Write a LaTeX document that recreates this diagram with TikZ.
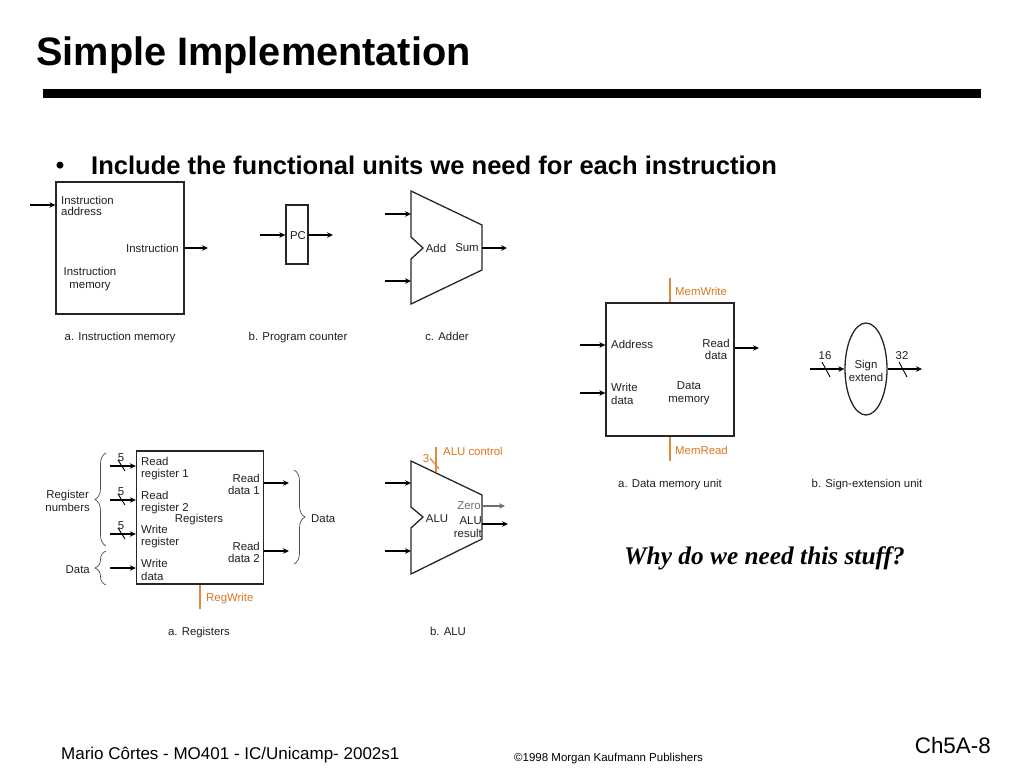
\documentclass[tikz,border=0pt]{standalone}
\usepackage{fontspec}
\setmainfont{Liberation Sans}
\newfontfamily\whyfont{Liberation Serif}
\usetikzlibrary{decorations.pathreplacing,shapes.geometric,arrows.meta}
\definecolor{ctrlorange}{HTML}{DD8A3C}
\definecolor{ctrltext}{HTML}{D9771F}
\definecolor{zerogray}{HTML}{6E6E6E}
\tikzset{
  lbl/.style={inner sep=0pt,align=center,yshift=-1pt,font=\fontsize{11.4}{12.4}\selectfont,text=black!88},
  lblleft/.style={lbl,align=left,anchor=west},
  ctrllbl/.style={lbl,text=ctrltext,anchor=west},
  unitbox/.style={draw=black!85,line width=1.3pt,inner sep=0pt},
  unitline/.style={draw=black!85,line width=1.3pt,line join=miter},
  sig/.style={line width=2pt,-{Stealth[length=6pt,width=5.5pt]}},
  ctrl/.style={line width=1.2pt,draw=ctrlorange},
  bus/.style={line width=.9pt},
  grp/.style={draw=black!70,line width=.7pt,decorate,decoration={brace,amplitude=11pt}}
}
\begin{document}
\begin{tikzpicture}[x=1pt,y=-1pt]
  \useasboundingbox (0,0) rectangle (1024,768);
  % heading
  \node[inner sep=0pt,anchor=west,font=\fontsize{39.7}{41}\selectfont\bfseries] (title) at (36,55) {Simple Implementation};
  \fill (43,89) rectangle (981,98);
  \node[inner sep=0pt,font=\fontsize{24}{26}\selectfont\bfseries] (dot) at (60,168) {•};
  \node[inner sep=0pt,anchor=west,font=\fontsize{25.55}{27}\selectfont\bfseries] (head) at (91,165) {Include the functional units we need for each instruction};

  % units
  \node[unitbox,minimum width=128pt,minimum height=132pt] (imem) at (120,248) {};
  \node[unitbox,minimum width=22pt,minimum height=59pt] (pc) at (297,234.5) {};
  \node[unitbox,minimum width=128pt,minimum height=133pt] (dmem) at (670,369.5) {};
  \node[unitbox,minimum width=127pt,minimum height=133pt] (regs) at (200,517.5) {};
  \node[draw=black!85,ellipse,line width=1.3pt,minimum width=42pt,minimum height=92pt,inner sep=0pt] (sign) at (866,369) {};
  \draw[unitline] (411,191) -- (482,225) -- (482,270) -- (411,304) -- (411,259) -- (423,248) -- (411,237) -- cycle;
  \draw[unitline] (411,461) -- (482,495) -- (482,539) -- (411,574) -- (411,528) -- (423,517) -- (411,507) -- cycle;

  % free ends of the connectors
  \coordinate (imemin) at (30,205);
  \coordinate (imemout) at (208,248);
  \coordinate (pcin) at (260,235);
  \coordinate (pcout) at (333,235);
  \coordinate (addain) at (385,214);
  \coordinate (addaend) at (411,214);
  \coordinate (addbin) at (385,281);
  \coordinate (addbend) at (411,281);
  \coordinate (addsum) at (482,248);
  \coordinate (addout) at (507,248);
  \coordinate (dmaddr) at (580,345);
  \coordinate (dmdata) at (580,393);
  \coordinate (dmout) at (759,348);
  \coordinate (signin) at (810,369);
  \coordinate (signout) at (922,369);
  \coordinate (rra) at (110,466);
  \coordinate (rrb) at (110,500);
  \coordinate (rwr) at (110,534);
  \coordinate (rwd) at (110,568);
  \coordinate (rda) at (289,483);
  \coordinate (rdb) at (289,551);
  \coordinate (aluain) at (385,483);
  \coordinate (aluaend) at (411,483);
  \coordinate (alubin) at (385,551);
  \coordinate (alubend) at (411,551);
  \coordinate (aluzero) at (482,506);
  \coordinate (aluzout) at (505,506);
  \coordinate (alures) at (482,524);
  \coordinate (aluout) at (508,524);

  \foreach \from/\to in {addain/addaend,addbin/addbend,addsum/addout,aluain/aluaend,alubin/alubend,alures/aluout}
    \draw[sig] (\from) -- (\to);
  \foreach \from/\to in {imemin/imem,pcin/pc,dmaddr/dmem,dmdata/dmem,rra/regs,rrb/regs,rwr/regs,rwd/regs}
    \draw[sig] (\from) -- (\from -| \to.west);
  \foreach \from/\to in {imem/imemout,pc/pcout,dmem/dmout,regs/rda,regs/rdb}
    \draw[sig] (\from.east |- \to) -- (\to);
  \draw[sig] (signin) -- (sign.west);
  \draw[sig] (sign.east) -- (signout);
  \draw[sig,draw=zerogray,fill=zerogray,line width=1.4pt] (aluzero) -- (aluzout);

  % control lines
  \coordinate (mwtop) at (670,278);
  \coordinate (mrbot) at (670,461);
  \coordinate (rwbot) at (200,609);
  \coordinate (actop) at (436,447);
  \coordinate (acbot) at (436,472);
  \draw[ctrl] (mwtop) -- (mwtop |- dmem.north);
  \draw[ctrl] (mrbot) -- (mrbot |- dmem.south);
  \draw[ctrl] (rwbot) -- (rwbot |- regs.south);
  \draw[ctrl] (actop) -- (acbot);
  \draw[ctrl] (430,458) -- (439,469);

  % bus widths
  \foreach \yy in {466,500,534}
    \draw[bus] (118,\yy-6) -- (125,\yy+5);
  \draw[bus] (822,362) -- (830,377);
  \draw[bus] (899,362) -- (907,377);

  % braces
  \draw[grp] (106,546) -- node[coordinate] (numsbrace) {} (106,453);
  \draw[grp] (106,585) -- node[coordinate] (databrace) {} (106,551);
  \draw[grp] (294,470) -- node[coordinate] (outbrace) {} (294,564);

  % labels
  \node[lblleft] (l1) at (61,205) {Instruction\\[-1pt]address};
  \node[lbl,anchor=east] (l2) at (179,247) {Instruction};
  \node[lbl] (l3) at (90,278) {Instruction\\[.6pt]memory};
  \node[lbl] (l4) at (120,337) {a. Instruction memory};
  \node[lbl] (l5) at (298,235) {PC};
  \node[lbl] (l6) at (298,337) {b. Program counter};
  \node[lbl] (l7) at (436,247) {Add};
  \node[lbl] (l8) at (467,247) {Sum};
  \node[lbl] (l9) at (447,335) {c. Adder};
  \node[ctrllbl] (l10) at (675,290) {MemWrite};
  \node[lblleft] (l11) at (611,343) {Address};
  \node[lbl] (l12) at (716,348.5) {Read\\data};
  \node[lblleft] (l13) at (611,393) {Write\\data};
  \node[lbl] (l14) at (689,392) {Data\\[.6pt]memory};
  \node[ctrllbl] (l15) at (675,449) {MemRead};
  \node[lbl] (l16) at (670,484) {a. Data memory unit};
  \node[lbl] (l17) at (866,370) {Sign\\[.6pt]extend};
  \node[lbl] (l18) at (825,355) {16};
  \node[lbl] (l19) at (902,355) {32};
  \node[lbl] (l20) at (867,484) {b. Sign-extension unit};
  \node[lbl] (l21) at (121,457) {5};
  \node[lbl] (l22) at (121,491) {5};
  \node[lbl] (l23) at (121,525) {5};
  \node[lblleft] (l24) at (141,467.5) {Read\\register 1};
  \node[lblleft] (l25) at (141,501.5) {Read\\register 2};
  \node[lblleft] (l26) at (141,535.5) {Write\\register};
  \node[lblleft] (l27) at (141,569) {Write\\data};
  \node[lbl] (l28) at (199,519) {Registers};
  \node[lbl,align=right,anchor=east] (l29) at (260,483.5) {Read\\data 1\hspace{3pt}};
  \node[lbl,align=right,anchor=east] (l30) at (260,551.5) {Read\\data 2\hspace{3pt}};
  \node[lbl,anchor=east] (l31) at (90,500) {Register\\numbers};
  \node[lbl,anchor=east] (l32) at (90,569) {Data};
  \node[lbl,anchor=west] (l33) at (311,518) {Data};
  \node[ctrllbl] (l34) at (206,598) {RegWrite};
  \node[lbl] (l35) at (199,632) {a. Registers};
  \node[lbl] (l36) at (437,518) {ALU};
  \node[lbl,text=zerogray,anchor=east] (l37) at (481,505) {Zero};
  \node[lbl,align=right,anchor=east] (l38) at (482,526) {ALU\\result\hspace{4pt}};
  \node[ctrllbl] (l39) at (443,450) {ALU control};
  \node[lbl,text=ctrltext] (l40) at (426,458) {3};
  \node[lbl] (l41) at (448,630) {b. ALU};

  \node[inner sep=0pt,anchor=west,font=\whyfont\fontsize{25.35}{27}\selectfont\bfseries\itshape] (why) at (624,558.5) {Why do we need this stuff?};

  % footer
  \node[inner sep=0pt,anchor=west,font=\fontsize{17}{19}\selectfont] (foota) at (61,755) {Mario Côrtes - MO401 - IC/Unicamp- 2002s1};
  \node[inner sep=0pt,anchor=west,font=\fontsize{11.5}{12}\selectfont] (footb) at (514,759) {©1998 Morgan Kaufmann Publishers};
  \node[inner sep=0pt,anchor=east,font=\fontsize{22.4}{24}\selectfont] (footc) at (991,745) {Ch5A-8};
\end{tikzpicture}
\end{document}
